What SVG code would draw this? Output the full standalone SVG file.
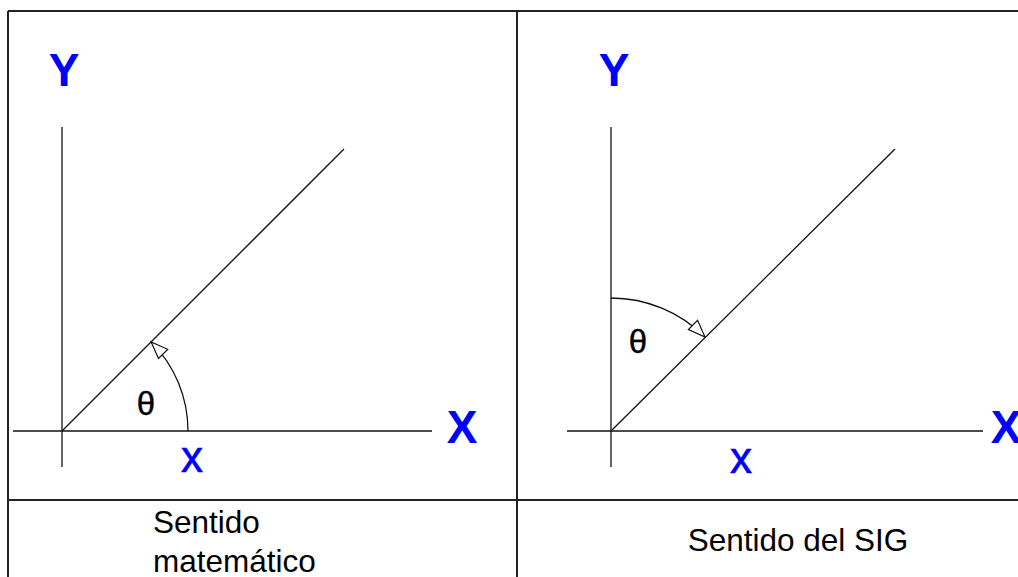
<svg xmlns="http://www.w3.org/2000/svg" width="1018" height="577" viewBox="0 0 1018 577">
<style>
.frame{stroke:#222;stroke-width:2;fill:none}
.ax{stroke:#111;stroke-width:1.3;fill:none}
.arc{stroke:#111;stroke-width:1.3;fill:none;marker-end:url(#open)}
.big{font-family:"Liberation Sans",Arial,sans-serif;font-weight:bold;font-size:46px;fill:#0000ff;text-anchor:middle}
.sm{font-family:"Liberation Sans",Arial,sans-serif;font-size:44px;fill:#0000ff;text-anchor:middle;stroke:#0000ff;stroke-width:0.6}
.th{font-family:"Liberation Sans",Arial,sans-serif;font-size:33px;fill:#000;text-anchor:middle;stroke:#000;stroke-width:0.4}
.cap{font-family:"Liberation Sans",Arial,sans-serif;font-size:31.5px;fill:#000}
</style>
<defs>
<marker id="open" markerUnits="userSpaceOnUse" markerWidth="22" markerHeight="18" viewBox="-19 -9 21 18" refX="0" refY="0" orient="auto">
<path d="M0,0 L-17,-6.5 L-17,6.5 Z" fill="#fff" stroke="#111" stroke-width="1.2"/>
</marker>
</defs>
<rect width="1018" height="577" fill="#fff"/>
<g id="frame">
<line class="frame" x1="8" y1="11" x2="1018" y2="11"/>
<line class="frame" x1="8" y1="11" x2="8" y2="577"/>
<line class="frame" x1="517" y1="11" x2="517" y2="577"/>
<line class="frame" x1="8" y1="500" x2="1018" y2="500"/>
</g>
<g id="left-panel">
<text class="big" x="64" y="86">Y</text>
<text class="big" x="462" y="443">X</text>
<text class="sm" x="192" y="472">x</text>
<text class="th" x="146" y="415">θ</text>
</g>
<g id="right-panel">
<text class="big" x="614" y="86">Y</text>
<text class="big" x="1006" y="443">X</text>
<text class="sm" x="741" y="473">x</text>
<text class="th" x="638" y="353">θ</text>
</g>
<g id="connectors">
<line class="ax" x1="62" y1="127" x2="62" y2="467"/>
<line class="ax" x1="13" y1="431" x2="432" y2="431"/>
<line class="ax" x1="62" y1="431" x2="344" y2="149"/>
<path class="arc" d="M188,431 A126,126 0 0 0 151.1,341.9"/>
<line class="ax" x1="611" y1="127" x2="611" y2="467"/>
<line class="ax" x1="567" y1="431" x2="983" y2="431"/>
<line class="ax" x1="611" y1="431" x2="895" y2="149"/>
<path class="arc" d="M611,298 A133,133 0 0 1 705,337"/>
</g>
<g id="captions">
<text class="cap" x="153" y="533">Sentido</text>
<text class="cap" x="153" y="572">matemático</text>
<text class="cap" x="798" y="551" text-anchor="middle">Sentido del SIG</text>
</g>
</svg>
